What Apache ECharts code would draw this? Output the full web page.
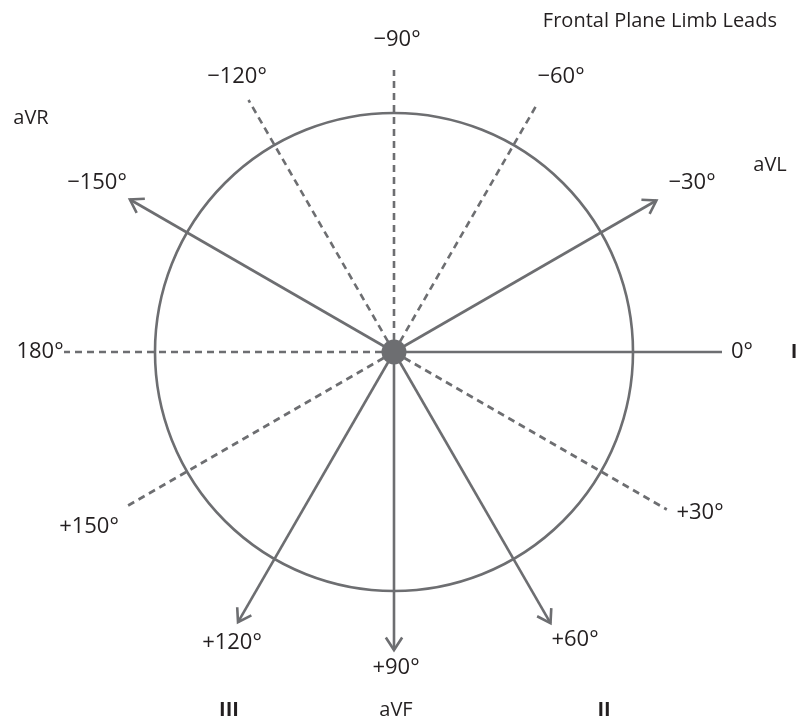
<!DOCTYPE html>
<html>
<head>
<meta charset="utf-8">
<style>
  html, body { margin: 0; padding: 0; background: #ffffff; }
  #chart { width: 799px; height: 722px; }
</style>
<script src="https://cdn.jsdelivr.net/npm/echarts@6/dist/echarts.min.js"></script>
</head>
<body>
<div id="chart"></div>
<script>
// ---- Data ----
const chartTitle = 'Frontal Plane Limb Leads';
const leadAngles = [0, -30, -60, -90, -120, -150, 180, 150, 120, 90, 60, 30];
const leadLengths = [328, 303, 283, 282, 291, 305, 330, 308, 312, 298, 313, 315];
const leadKinds = ['solid', 'arrow', 'dashed', 'dashed', 'dashed', 'arrow', 'dashed', 'dashed', 'arrow', 'arrow', 'arrow', 'dashed'];
const angleLabels = ['0°', '−30°', '−60°', '−90°', '−120°', '−150°', '180°', '+150°', '+120°', '+90°', '+60°', '+30°'];
const leadNames = ['I', 'aVL', 'aVR', 'III', 'aVF', 'II'];
const circleRadius = 239;

// ---- Layout (label anchor offsets from the centre, in axis units) ----
const angleLabelOffsets = [[348, 0], [298, -169], [167, -275], [3, -312], [-157, -275], [-297, -169],
  [-354, 0], [-305, 175], [-162, 291], [2, 316], [181, 288], [306, 161]];
const leadNameOffsets = [[400, 0], [376, -187], [-363, -234], [-165, 358], [2, 358], [210, 358]];
const leadNameBold = [true, false, false, true, false, true];

const LINE = '#6d6e71';
const TEXT = '#231f20';
const FONT = '"Open Sans", "Noto Sans", sans-serif';

const chart = echarts.init(document.getElementById('chart'), null, { renderer: 'canvas' });

const leadData = leadAngles.map((a, i) => [a, leadLengths[i], i]);

function renderLead(params, api) {
  const ang = api.value(0) * Math.PI / 180;
  const len = api.value(1);
  const idx = api.value(2);
  const kind = leadKinds[idx];
  const c = api.coord([0, 0]);
  const e = api.coord([len * Math.cos(ang), len * Math.sin(ang)]);
  const children = [{
    type: 'line',
    shape: { x1: c[0], y1: c[1], x2: e[0], y2: e[1] },
    style: { stroke: LINE, lineWidth: 2.6, lineDash: kind === 'dashed' ? [7, 5] : null, fill: null }
  }];
  if (kind === 'arrow') {
    const dx = c[0] - e[0], dy = c[1] - e[1];
    const d = Math.sqrt(dx * dx + dy * dy);
    const ux = dx / d, uy = dy / d;
    const h = 15, t = 33 * Math.PI / 180;
    const p1 = [e[0] + h * (ux * Math.cos(t) - uy * Math.sin(t)), e[1] + h * (ux * Math.sin(t) + uy * Math.cos(t))];
    const p2 = [e[0] + h * (ux * Math.cos(-t) - uy * Math.sin(-t)), e[1] + h * (ux * Math.sin(-t) + uy * Math.cos(-t))];
    children.push({
      type: 'polyline',
      shape: { points: [p1, e, p2] },
      style: { stroke: LINE, lineWidth: 2.6, fill: null, lineJoin: 'miter' }
    });
  }
  return { type: 'group', children: children };
}

const angleLabelData = angleLabels.map((t, i) => ({ name: t, value: angleLabelOffsets[i], size: 22, bold: false }));
const leadNameData = leadNames.map((t, i) => ({ name: t, value: leadNameOffsets[i], size: 20, bold: leadNameBold[i] }));

function makeTextRenderer(list) {
  return function (params, api) {
    const p = api.coord([api.value(0), api.value(1)]);
    const item = list[params.dataIndex];
    return {
      type: 'text',
      x: p[0], y: p[1],
      style: {
        text: item.name,
        fill: TEXT,
        font: (item.bold ? 'bold ' : '') + item.size + 'px ' + FONT,
        align: 'center',
        verticalAlign: 'middle'
      }
    };
  };
}

const option = {
  backgroundColor: '#ffffff',
  animation: false,
  title: {
    text: chartTitle,
    right: 17,
    top: 6,
    textStyle: { fontFamily: FONT, fontSize: 20, fontWeight: 'normal', color: TEXT }
  },
  grid: { left: 0, right: 0, top: 0, bottom: 0, outerBoundsMode: 'none' },
  xAxis: { type: 'value', min: -394, max: 405, show: false },
  yAxis: { type: 'value', min: -352, max: 370, inverse: true, show: false },
  series: [
    {
      type: 'custom',
      name: 'circle',
      data: [[0, 0]],
      z: 1,
      renderItem: function (params, api) {
        const c = api.coord([0, 0]);
        const r = api.size([circleRadius, 0])[0];
        return { type: 'circle', shape: { cx: c[0], cy: c[1], r: r }, style: { stroke: LINE, lineWidth: 2.6, fill: null } };
      }
    },
    {
      type: 'custom',
      name: 'leads',
      data: leadData,
      z: 2,
      renderItem: renderLead
    },
    {
      type: 'scatter',
      name: 'centre',
      data: [[0, 0]],
      symbol: 'circle',
      symbolSize: 25,
      itemStyle: { color: LINE, opacity: 1 },
      z: 3
    },
    {
      type: 'custom',
      name: 'angleLabels',
      data: angleLabelData.map(d => d.value),
      z: 4,
      renderItem: makeTextRenderer(angleLabelData)
    },
    {
      type: 'custom',
      name: 'leadNames',
      data: leadNameData.map(d => d.value),
      z: 4,
      renderItem: makeTextRenderer(leadNameData)
    }
  ]
};

chart.setOption(option);
</script>
</body>
</html>
